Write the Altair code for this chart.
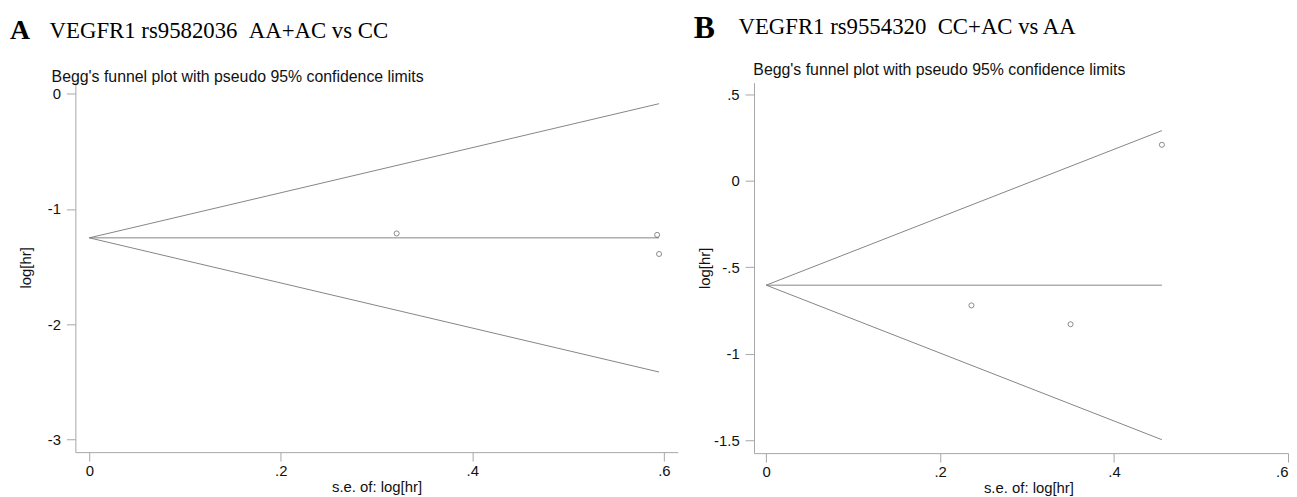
import altair as alt
import pandas as pd

# ---------------- data ----------------
x_ticks = [0, 0.2, 0.4, 0.6]

# Panel A: VEGFR1 rs9582036 AA+AC vs CC
a_se = [0.321, 0.593, 0.595]
a_loghr = [-1.212, -1.224, -1.390]
a_fun_se = [0.0, 0.595]
a_center = [-1.250, -1.250]
a_upper = [-1.250, -0.086]
a_lower = [-1.250, -2.414]
a_y_ticks = [0, -1, -2, -3]

# Panel B: VEGFR1 rs9554320 CC+AC vs AA
b_se = [0.236, 0.350, 0.455]
b_loghr = [-0.720, -0.829, 0.209]
b_fun_se = [0.0, 0.455]
b_center = [-0.603, -0.603]
b_upper = [-0.603, 0.291]
b_lower = [-0.603, -1.497]
b_y_ticks = [0.5, 0, -0.5, -1, -1.5]

subtitle = "Begg's funnel plot with pseudo 95% confidence limits"

LINE_COL = "#858585"
AXIS_COL = "#a6a6a6"
TEXT_COL = "#111111"
SANS = "Liberation Sans"
SERIF = "Liberation Serif"

label_expr = "replace(toString(datum.value), '0.', '.')"


def lines_df(se, center, upper, lower):
    rows = []
    for name, vals in (("upper", upper), ("center", center), ("lower", lower)):
        for s, v in zip(se, vals):
            rows.append({"se": s, "val": v, "line": name})
    return pd.DataFrame(rows)


def panel(pts_se, pts_val, fse, fc, fu, fl, xdom, ydom, yticks, width, height,
          letter, letter_size, letter_pos, title, title_pos, sub_pos,
          y_title_pad, x_title_x=None):
    xaxis = dict(values=x_ticks, title="s.e. of: log[hr]", labelExpr=label_expr,
                 tickSize=9, labelPadding=3, titlePadding=1, labelFlush=5)
    if x_title_x is not None:
        xaxis["titleX"] = x_title_x
    x = alt.X("se:Q", scale=alt.Scale(domain=xdom, nice=False, zero=False),
              axis=alt.Axis(**xaxis))
    y = alt.Y("val:Q", scale=alt.Scale(domain=ydom, nice=False, zero=False),
              axis=alt.Axis(values=yticks, title="log[hr]", labelExpr=label_expr,
                            tickSize=9, labelPadding=6, titlePadding=y_title_pad))

    ldf = lines_df(fse, fc, fu, fl)
    pdf = pd.DataFrame({"se": pts_se, "val": pts_val})

    lines = alt.Chart(ldf).mark_line(color=LINE_COL, strokeWidth=1).encode(
        x=x, y=y, detail="line:N")
    points = alt.Chart(pdf).mark_point(shape="circle", filled=False, size=26,
                                       color="#5a5a5a", strokeWidth=1).encode(x=x, y=y)

    let = alt.Chart(pd.DataFrame({"t": [letter]})).mark_text(
        font=SERIF, fontWeight="bold", fontSize=letter_size, align="left",
        baseline="alphabetic", color="#000000").encode(
        x=alt.value(letter_pos[0]), y=alt.value(letter_pos[1]), text="t:N")
    tit = alt.Chart(pd.DataFrame({"t": [title]})).mark_text(
        font=SERIF, fontSize=23, align="left", baseline="alphabetic",
        color="#000000").encode(
        x=alt.value(title_pos[0]), y=alt.value(title_pos[1]), text="t:N")
    sub = alt.Chart(pd.DataFrame({"t": [subtitle]})).mark_text(
        font=SANS, fontSize=16, align="left", baseline="alphabetic",
        color=TEXT_COL).encode(
        x=alt.value(sub_pos[0]), y=alt.value(sub_pos[1]), text="t:N")

    return alt.layer(lines, points, let, tit, sub).properties(width=width, height=height)


pa = panel(a_se, a_loghr, a_fun_se, a_center, a_upper, a_lower,
           [-0.0145, 0.6145], [-3.109, 0.097], a_y_ticks, 608, 373,
           "A", 28, (-66, -44), "VEGFR1 rs9582036\u00a0\u00a0AA+AC vs CC", (-26, -45.5),
           (-24, -1), 14)

pb = panel(b_se, b_loghr, b_fun_se, b_center, b_upper, b_lower,
           [-0.014, 0.6], [-1.5747, 0.5689], b_y_ticks, 539, 374,
           "B", 32, (-60.7, -45), "VEGFR1 rs9554320\u00a0\u00a0CC+AC vs AA", (-15.7, -48.7),
           (-0.7, -8), 1, x_title_x=277)

chart = alt.hconcat(pa, pb, spacing=16).properties(
    padding={"left": 2, "top": 2, "right": 0, "bottom": 0}
).configure_view(strokeWidth=0).configure_axis(
    grid=False, domainColor=AXIS_COL, tickColor=AXIS_COL, domainWidth=1, tickWidth=1,
    labelFont=SANS, labelFontSize=15, labelColor=TEXT_COL,
    titleFont=SANS, titleFontSize=15, titleFontWeight="normal", titleColor=TEXT_COL
)

chart.save("out.html", embed_options={"renderer": "svg", "actions": False})
